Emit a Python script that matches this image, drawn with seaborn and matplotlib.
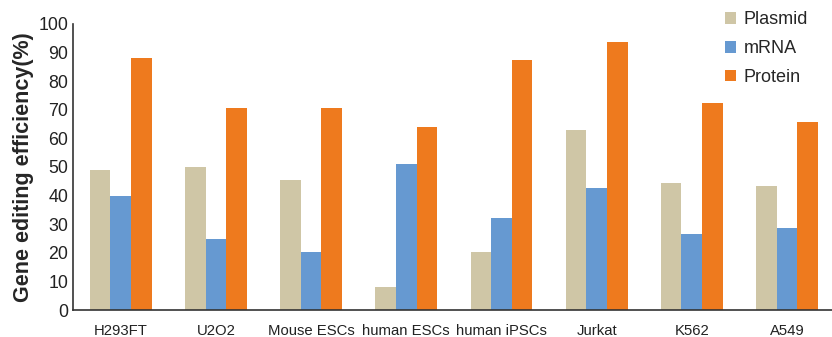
import pandas as pd
import matplotlib.pyplot as plt
import seaborn as sns

# ========== DATA ==========
cell_lines = ["H293FT", "U2O2", "Mouse ESCs", "human ESCs", "human iPSCs", "Jurkat", "K562", "A549"]
plasmid = [49.0, 50.0, 45.5, 8.0, 20.3, 63.0, 44.4, 43.4]
mrna = [39.9, 24.8, 20.3, 51.0, 32.2, 42.7, 26.6, 28.7]
protein = [88.0, 70.6, 70.6, 64.0, 87.4, 93.7, 72.4, 65.7]
methods = ["Plasmid", "mRNA", "Protein"]
colors = ["#CFC6A6", "#6699D1", "#EE7A1E"]

df = pd.DataFrame({"cell": cell_lines, "Plasmid": plasmid, "mRNA": mrna, "Protein": protein})
long_df = df.melt(id_vars="cell", var_name="method", value_name="efficiency")

# ========== PLOT ==========
sns.set_style("white")
plt.rcParams["font.family"] = ["Liberation Sans", "DejaVu Sans"]

fig = plt.figure(figsize=(8.32, 3.37), dpi=100)
ax = fig.add_axes([0.088, 0.080, 0.915, 0.849])

sns.barplot(data=long_df, x="cell", y="efficiency", hue="method", hue_order=methods,
            palette=colors, width=0.65, saturation=1, linewidth=0, ax=ax, errorbar=None)

ax.set_ylim(0, 100)
ax.set_xlim(-0.5, 7.5)
ax.set_yticks(range(0, 101, 10))
ax.tick_params(axis="y", labelsize=12.8, direction="inout", length=5, width=1,
               color="#333333", labelcolor="#222222", pad=1)
ax.set_xticks([i + 0.5 for i in range(-1, 8)], minor=True)
ax.tick_params(axis="x", which="major", length=0, labelsize=10.7, labelcolor="#222222", pad=10)
ax.tick_params(axis="x", which="minor", length=3, width=1, color="#333333", direction="out")
ax.set_xlabel("")
ax.set_ylabel("Gene editing efficiency(%)", fontsize=15.5, fontweight="bold", labelpad=3)

sns.despine(ax=ax)
for s in ["left", "bottom"]:
    ax.spines[s].set_color("#333333")
    ax.spines[s].set_linewidth(1.2)

ax.legend(loc="upper left", bbox_to_anchor=(0.871, 0.966), bbox_transform=fig.transFigure,
          frameon=False, fontsize=13, borderpad=0, borderaxespad=0,
          handlelength=0.6, handleheight=0.6, handletextpad=0.45, labelspacing=0.65)

fig.savefig("out.png", dpi=100)
